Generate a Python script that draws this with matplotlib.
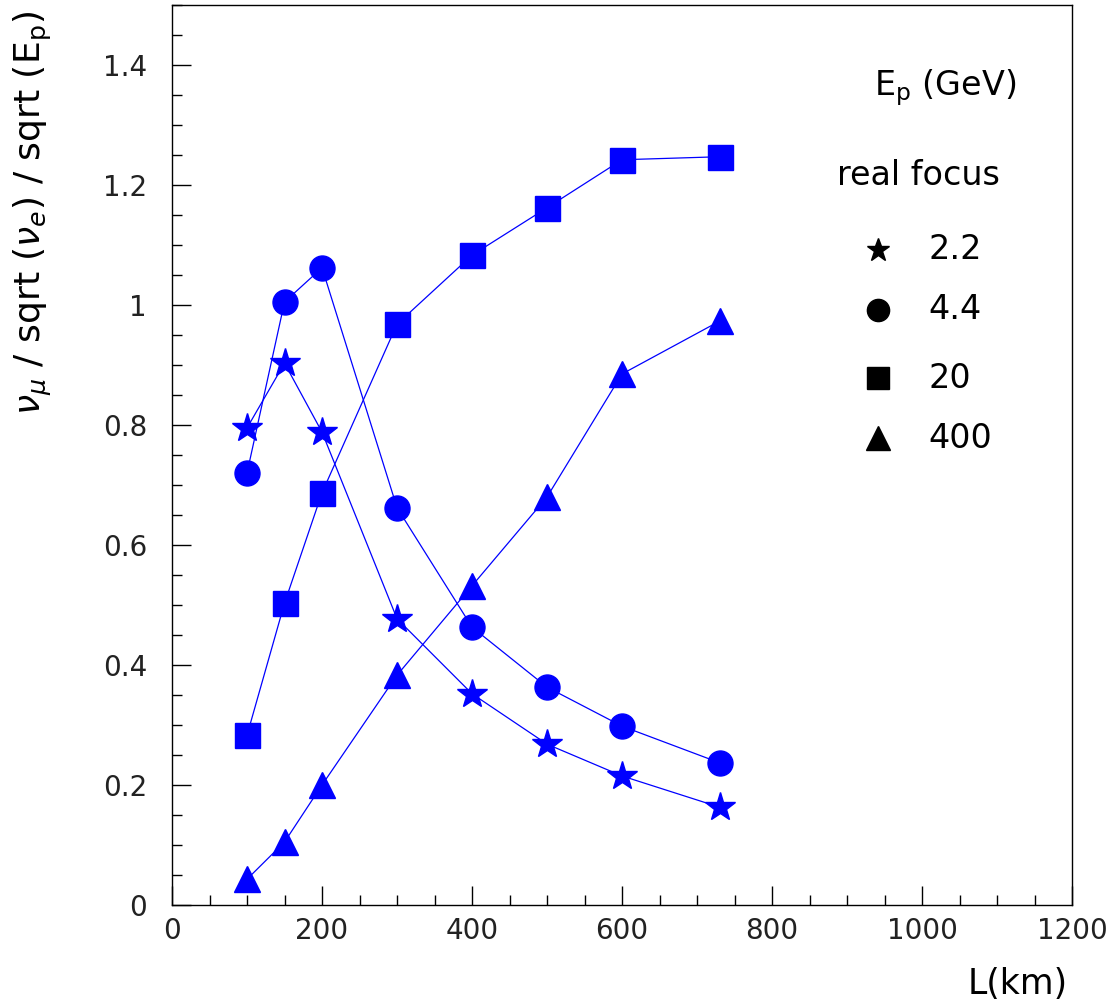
import matplotlib
matplotlib.use("Agg")
from matplotlib import pyplot as plt
from matplotlib.ticker import MultipleLocator

# distances (km)
L = [100, 150, 200, 300, 400, 500, 600, 730]
# nu_mu / sqrt(nu_e) / sqrt(Ep) for each proton energy
r22 = [0.795, 0.903, 0.788, 0.477, 0.352, 0.268, 0.215, 0.163]
r44 = [0.720, 1.005, 1.062, 0.662, 0.463, 0.363, 0.298, 0.237]
r20 = [0.283, 0.503, 0.687, 0.968, 1.083, 1.162, 1.242, 1.247]
r400 = [0.043, 0.105, 0.200, 0.383, 0.532, 0.680, 0.885, 0.973]
labels = ["2.2", "4.4", "20", "400"]
markers = ["*", "o", "s", "^"]
sizes = [22, 18, 18, 19]

plt.rcParams['font.family'] = ['DejaVu Sans']
plt.rcParams['mathtext.fontset'] = 'dejavusans'

fig = plt.figure(figsize=(11.12, 10.08), dpi=100)
ax = fig.add_axes([0.1547, 0.1022, 0.8094, 0.8929])

blue = '#0000ff'
for y, m, s in zip([r22, r44, r20, r400], markers, sizes):
    ax.plot(L, y, color=blue, lw=0.9, marker=m, ms=s, mec=blue, mfc=blue)

ax.set_xlim(0, 1200)
ax.set_ylim(0, 1.5)
ax.xaxis.set_major_locator(MultipleLocator(200))
ax.xaxis.set_minor_locator(MultipleLocator(50))
ax.yaxis.set_minor_locator(MultipleLocator(0.05))
ax.set_yticks([0, 0.2, 0.4, 0.6, 0.8, 1.0, 1.2, 1.4])
ax.set_yticklabels(["0", "0.2", "0.4", "0.6", "0.8", "1", "1.2", "1.4"])
ax.tick_params(which='both', direction='in', labelsize=20, colors='black', width=1)
ax.tick_params(which='major', length=14)
ax.tick_params(which='minor', length=7)
ax.tick_params(axis='y', which='major', pad=18)
ax.tick_params(axis='x', which='major', pad=9)
for lab in ax.get_xticklabels() + ax.get_yticklabels():
    lab.set_color('#222222')
for sp in ax.spines.values():
    sp.set_linewidth(1.0)

ax.text(-0.155, 0.994, r'$\nu_{\mu}$ / sqrt ($\nu_{e}$) / sqrt (E$_\mathregular{p}$)',
        transform=ax.transAxes, rotation=90, fontsize=26, ha='center', va='top')
fig.text(1068 / 1112, 24 / 1008, "L(km)", fontsize=25, ha='right', va='center')

# legend-like annotations
ax.text(1031, 1.362, r"E$_\mathregular{p}$ (GeV)", fontsize=24, ha='center', va='center')
ax.text(995, 1.215, "real focus", fontsize=24, ha='center', va='center')
rows = [1.092, 0.992, 0.878, 0.778]
for yy, m, lab, s in zip(rows, markers, labels, sizes):
    ax.plot([941], [yy], marker=m, ms=s - 2 if m != '*' else 17, color='black', ls='none')
    ax.text(1008, yy, lab, fontsize=24, ha='left', va='center')

fig.savefig("out.png", dpi=100)
